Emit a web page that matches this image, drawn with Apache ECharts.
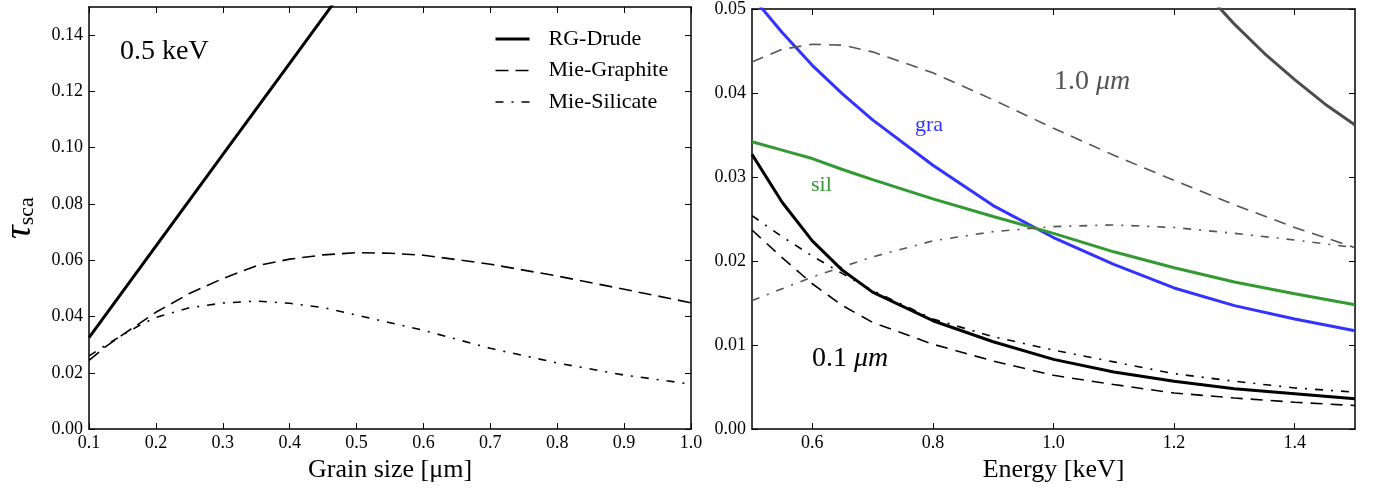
<!DOCTYPE html>
<html>
<head>
<meta charset="utf-8">
<script src="https://cdn.jsdelivr.net/npm/echarts@6/dist/echarts.min.js"></script>
<style>
html,body{margin:0;padding:0;background:#fff;}
#c{width:1376px;height:488px;}
</style>
</head>
<body>
<div id="c"></div>
<script>
// ---------- Left panel: tau_sca vs grain size at 0.5 keV ----------
const drudeSizeL = [0.1, 0.2, 0.3, 0.4, 0.5];
const drudeTauL  = [0.0325, 0.065, 0.0975, 0.130, 0.1625];

const graSizeL = [0.1, 0.125, 0.15, 0.175, 0.2, 0.25, 0.3, 0.35, 0.4, 0.45, 0.5, 0.55, 0.6, 0.7, 0.8, 0.9, 1.0];
const graTauL  = [0.0244, 0.0293, 0.0335, 0.0375, 0.0415, 0.0482, 0.0535, 0.0580, 0.0604, 0.0619, 0.0627, 0.0625, 0.0618, 0.0586, 0.0544, 0.0497, 0.0449];

const silSizeL = [0.1, 0.125, 0.15, 0.175, 0.2, 0.25, 0.3, 0.35, 0.4, 0.45, 0.5, 0.6, 0.7, 0.8, 0.9, 1.0];
const silTauL  = [0.0260, 0.0298, 0.0334, 0.0368, 0.0397, 0.0431, 0.0448, 0.0455, 0.0447, 0.0432, 0.0405, 0.0351, 0.0287, 0.0235, 0.0192, 0.0160];

const leftXTicks = [0.1, 0.2, 0.3, 0.4, 0.5, 0.6, 0.7, 0.8, 0.9, 1.0];
const leftYTicks = [0.00, 0.02, 0.04, 0.06, 0.08, 0.10, 0.12, 0.14];

// ---------- Right panel: tau_sca vs energy ----------
const energy = [0.5, 0.55, 0.6, 0.65, 0.7, 0.8, 0.9, 1.0, 1.1, 1.2, 1.3, 1.4, 1.5];
// 0.1 um grains (black)
const drude01 = [0.0327, 0.0270, 0.0224, 0.0189, 0.0163, 0.0129, 0.0104, 0.0083, 0.0068, 0.0057, 0.0048, 0.0042, 0.0036];
const gra01   = [0.0237, 0.0204, 0.0173, 0.0147, 0.0127, 0.0101, 0.0081, 0.0064, 0.0053, 0.0043, 0.0037, 0.0032, 0.0028];
const sil01   = [0.0254, 0.0229, 0.0206, 0.0185, 0.0165, 0.0131, 0.0110, 0.0094, 0.0080, 0.0066, 0.0057, 0.0049, 0.0044];
// 1.0 um grains (grey)
const energyDrude10 = [1.2, 1.25, 1.3, 1.35, 1.4, 1.45, 1.5];
const drude10 = [0.0566, 0.0521, 0.0482, 0.0447, 0.0416, 0.0387, 0.0362];
const gra10   = [0.0437, 0.0452, 0.0458, 0.0457, 0.0449, 0.0424, 0.0392, 0.0358, 0.0326, 0.0296, 0.0267, 0.0240, 0.0216];
const sil10   = [0.0153, 0.0167, 0.0181, 0.0193, 0.0205, 0.0224, 0.0235, 0.0241, 0.0243, 0.0240, 0.0233, 0.0225, 0.0216];
// coloured curves
const graCurve = [0.0515, 0.0472, 0.0433, 0.0399, 0.0368, 0.0314, 0.0266, 0.0228, 0.0196, 0.0168, 0.0147, 0.0131, 0.0117];
const silCurve = [0.0342, 0.0332, 0.0322, 0.0309, 0.0297, 0.0274, 0.0253, 0.0233, 0.0211, 0.0192, 0.0175, 0.0161, 0.0148];

const rightXTicks = [0.6, 0.8, 1.0, 1.2, 1.4];
const rightYTicks = [0.00, 0.01, 0.02, 0.03, 0.04, 0.05];

function zip(xs, ys) { return xs.map((x, i) => [x, ys[i]]); }

const FONT = 'Liberation Serif';
const DASH = [13, 7];
const DASHDOT = [8, 8, 2, 8];

function baseX(grid, min, max, ticks, digits, name, show) {
  return {
    type: 'value', gridIndex: grid, min: min, max: max,
    position: show ? 'bottom' : 'top',
    name: show ? name : '', nameLocation: 'middle', nameGap: 25,
    nameTextStyle: { fontFamily: FONT, fontSize: 26, color: '#000' },
    axisLine: { show: true, onZero: false, lineStyle: { color: '#000', width: 1.5 } },
    axisTick: { show: true, inside: true, length: 6, customValues: ticks, lineStyle: { color: '#000', width: 1 } },
    axisLabel: { show: show, margin: 5, customValues: ticks, fontFamily: FONT, fontSize: 18, color: '#000',
                 formatter: v => v.toFixed(digits) },
    splitLine: { show: false }
  };
}
function baseY(grid, min, max, ticks, show, extra) {
  return Object.assign({
    type: 'value', gridIndex: grid, min: min, max: max,
    position: show ? 'left' : 'right',
    axisLine: { show: true, onZero: false, lineStyle: { color: '#000', width: 1.5 } },
    axisTick: { show: true, inside: true, length: 6, customValues: ticks, lineStyle: { color: '#000', width: 1 } },
    axisLabel: { show: show, margin: 6, customValues: ticks, fontFamily: FONT, fontSize: 18, color: '#000',
                 formatter: v => v.toFixed(2) },
    splitLine: { show: false }
  }, extra || {});
}

function line(name, xi, yi, data, color, width, type) {
  return {
    name: name, type: 'line', xAxisIndex: xi, yAxisIndex: yi, data: data,
    symbol: 'none', showSymbol: false, clip: true, silent: true,
    lineStyle: { color: color, width: width, type: type || 'solid', cap: 'butt' },
    itemStyle: { color: color }
  };
}

const chart = echarts.init(document.getElementById('c'), null, { renderer: 'canvas' });
chart.setOption({
  animation: false,
  backgroundColor: '#fff',
  grid: [
    { left: 88, right: 685, top: 7, bottom: 58 },
    { left: 752, right: 21, top: 7, bottom: 58 }
  ],
  xAxis: [
    baseX(0, 0.1, 1.0, leftXTicks, 1, 'Grain size [\u03bcm]', true),
    baseX(0, 0.1, 1.0, leftXTicks, 1, '', false),
    baseX(1, 0.5, 1.5, rightXTicks, 1, 'Energy [keV]', true),
    baseX(1, 0.5, 1.5, rightXTicks, 1, '', false)
  ],
  yAxis: [
    baseY(0, 0, 0.15, leftYTicks, true, {
      name: '{t|\u03c4}{s|sca}', nameLocation: 'middle', nameRotate: 90, nameGap: 50,
      nameTextStyle: { rich: {
        t: { fontFamily: FONT, fontStyle: 'italic', fontSize: 38, color: '#000' },
        s: { fontFamily: FONT, fontSize: 22, color: '#000', padding: [14, 0, 0, 0] }
      } }
    }),
    baseY(0, 0, 0.15, leftYTicks, false),
    baseY(1, 0, 0.05, rightYTicks, true),
    baseY(1, 0, 0.05, rightYTicks, false)
  ],
  legend: {
    data: ['RG-Drude', 'Mie-Graphite', 'Mie-Silicate'],
    orient: 'vertical', left: 489, top: 23,
    itemWidth: 34, itemHeight: 14, itemGap: 9.5,
    itemStyle: { opacity: 0 },
    lineStyle: { width: 'inherit', type: 'inherit' },
    textStyle: { fontFamily: FONT, fontSize: 22, color: '#000', padding: [0, 0, 0, 14] },
    selectedMode: false
  },
  series: [
    line('RG-Drude', 0, 0, zip(drudeSizeL, drudeTauL), '#000', 3),
    line('Mie-Graphite', 0, 0, zip(graSizeL, graTauL), '#000', 1.6, DASH),
    line('Mie-Silicate', 0, 0, zip(silSizeL, silTauL), '#000', 1.6, DASHDOT),

    line('gra', 2, 2, zip(energy, graCurve), '#3333ff', 3),
    line('sil', 2, 2, zip(energy, silCurve), '#339933', 3),
    line('drude 1.0', 2, 2, zip(energyDrude10, drude10), '#4d4d4d', 3),
    line('gra 1.0', 2, 2, zip(energy, gra10), '#555', 1.6, [12, 8]),
    line('sil 1.0', 2, 2, zip(energy, sil10), '#555', 1.6, DASHDOT),
    line('drude 0.1', 2, 2, zip(energy, drude01), '#000', 3),
    line('gra 0.1', 2, 2, zip(energy, gra01), '#000', 1.6, [12, 8]),
    line('sil 0.1', 2, 2, zip(energy, sil01), '#000', 1.6, DASHDOT)
  ],
  graphic: [
    { type: 'text', left: 120, top: 38, style: { text: '0.5 keV', font: '28px "Liberation Serif"', fill: '#000' } },
    { type: 'text', left: 1054, top: 68, style: {
        text: '{n|1.0 }{i|\u03bcm}', fill: '#555',
        rich: { n: { font: '28px "Liberation Serif"', fill: '#555' }, i: { font: 'italic 28px "Liberation Serif"', fill: '#555' } } } },
    { type: 'text', left: 812, top: 345, style: {
        text: '{n|0.1 }{i|\u03bcm}', fill: '#000',
        rich: { n: { font: '28px "Liberation Serif"', fill: '#000' }, i: { font: 'italic 28px "Liberation Serif"', fill: '#000' } } } },
    { type: 'text', left: 915, top: 114, style: { text: 'gra', font: '22px "Liberation Serif"', fill: '#3333ff' } },
    { type: 'text', left: 811, top: 174, style: { text: 'sil', font: '22px "Liberation Serif"', fill: '#339933' } }
  ]
});
</script>
</body>
</html>
